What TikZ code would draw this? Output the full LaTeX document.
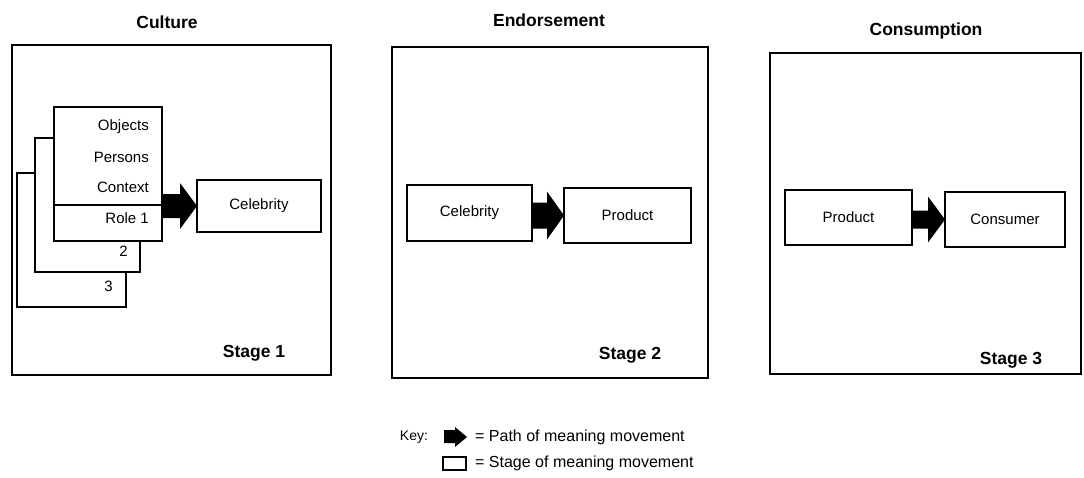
\documentclass[tikz,border=0pt]{standalone}
\usepackage{fontspec}
\setmainfont{Liberation Sans}
\usetikzlibrary{calc}

\tikzset{
  frame/.style={draw, line width=1.7pt, inner sep=0pt, outer sep=0pt},
  box/.style={draw, line width=1.7pt, fill=white, inner sep=0pt, outer sep=0pt,
              font=\fontsize{15}{17}\selectfont},
  lbl/.style={inner sep=0pt, font=\fontsize{15}{17}\selectfont},
  title/.style={inner sep=0pt, font=\fontsize{17.5}{20}\selectfont\bfseries},
  stagelbl/.style={inner sep=0pt, font=\fontsize{17.5}{20}\selectfont\bfseries},
  keytxt/.style={inner sep=0pt, anchor=west, font=\fontsize{16}{18}\selectfont},
}

% block arrow from the right side of #1 to the left side of #2
% #3: half height of the shaft, #4: half height of the head
\newcommand{\fatarrow}[4]{%
  \fill let \p1=(#1.east), \p2=(#2.west) in
    (\x1-1pt,\y2+#3) -- (\x2-17pt,\y2+#3) -- (\x2-17pt,\y2+#4) -- (\x2,\y2)
    -- (\x2-17pt,\y2-#4) -- (\x2-17pt,\y2-#3) -- (\x1-1pt,\y2-#3) -- cycle;}

\begin{document}
\begin{tikzpicture}[x=1pt, y=-1pt]
  \useasboundingbox (0,0) rectangle (1084,477);

  % stage titles
  \node[title] (tculture) at (167,22) {Culture};
  \node[title] (tendorse) at (549,20) {Endorsement};
  \node[title] (tconsume) at (926,31) {Consumption};

  % stage frames
  \node[frame, minimum width=319pt, minimum height=330pt] (frameA) at (171.5,210) {};
  \node[frame, minimum width=316pt, minimum height=331pt] (frameB) at (550,212.5) {};
  \node[frame, minimum width=311pt, minimum height=321pt] (frameC) at (925.5,213.5) {};

  \node[stagelbl] (stageA) at (254,353) {Stage 1};
  \node[stagelbl] (stageB) at (630,355) {Stage 2};
  \node[stagelbl] (stageC) at (1011,360) {Stage 3};

  % stage 1: stacked role cards
  \node[box, minimum width=109pt, minimum height=134pt] (cardC) at (71.5,240) {};
  \node[box, minimum width=105pt, minimum height=134pt] (cardB) at (87.5,205) {};
  \node[box, minimum width=108pt, minimum height=134pt] (cardA) at (108,174) {};
  \draw[line width=1.7pt] (cardA.west |- 0,205) -- (cardA.east |- 0,205);

  \node[lbl, anchor=east] (objects) at (149,127) {Objects};
  \node[lbl, anchor=east] (persons) at (149,157) {Persons};
  \node[lbl, anchor=east] (context) at (149,187) {Context};
  \node[lbl, anchor=east] (roleone) at (149,218) {Role 1};
  \node[lbl, anchor=east] (roletwo) at (128,251) {2};
  \node[lbl, anchor=east] (rolethree) at (113,286) {3};

  \node[box, minimum width=124pt, minimum height=52pt] (celebA) at (259,206) {Celebrity};
  \fatarrow{cardA}{celebA}{12pt}{23pt}

  % stage 2
  \node[box, minimum width=125pt, minimum height=56pt] (celebB) at (469.5,213) {Celebrity};
  \node[box, minimum width=127pt, minimum height=55pt] (productB) at (627.5,215.5) {Product};
  \fatarrow{celebB}{productB}{13pt}{24pt}

  % stage 3
  \node[box, minimum width=127pt, minimum height=55pt] (productC) at (848.5,217.5) {Product};
  \node[box, minimum width=120pt, minimum height=55pt] (consumerC) at (1005,219.5) {Consumer};
  \fatarrow{productC}{consumerC}{9pt}{23pt}

  % key
  \node[inner sep=0pt, font=\fontsize{14}{16}\selectfont] (keyword) at (414,437) {Key:};
  \fill (444,430) -- (455,430) -- (455,427) -- (467,437) -- (455,447) -- (455,443) -- (444,443) -- cycle;
  \node[keytxt] (keypath) at (475,437) {= Path of meaning movement};
  \node[draw, line width=1.7pt, minimum width=23pt, minimum height=13pt, inner sep=0pt] (keybox) at (454.5,463.5) {};
  \node[keytxt] (keystage) at (475,463) {= Stage of meaning movement};
\end{tikzpicture}
\end{document}
